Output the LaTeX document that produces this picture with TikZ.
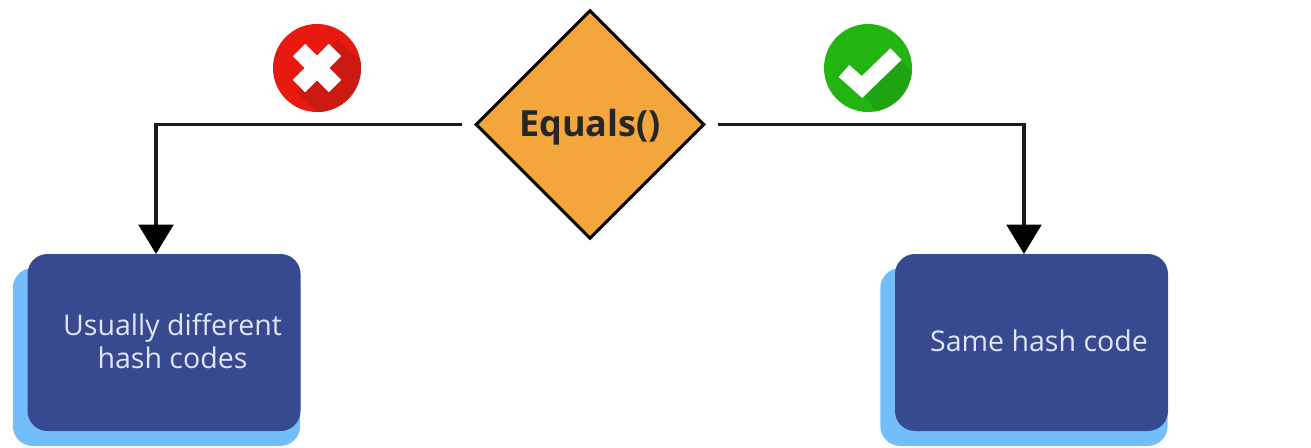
\documentclass[tikz,border=0pt]{standalone}
\usepackage{fontspec}
\setmainfont{Open Sans}
\usetikzlibrary{shapes.geometric,arrows.meta}
\definecolor{boxblue}{HTML}{37498F}
\definecolor{shadowblue}{HTML}{74BDFB}
\definecolor{boxtext}{HTML}{DDE6FA}
\definecolor{diamondfill}{HTML}{F2A63C}
\definecolor{crossred}{HTML}{E8190F}
\definecolor{crossdark}{HTML}{CC1A10}
\definecolor{checkgreen}{HTML}{22B511}
\definecolor{checkdark}{HTML}{1EA312}
\definecolor{linedark}{HTML}{1A1A1A}
\tikzset{
  x=0.75pt,y=-0.75pt,
  mainbox/.style={draw=none,fill=boxblue,rounded corners=15pt,minimum width=204.75pt,minimum height=132.75pt,inner sep=0pt},
  backbox/.style={draw=none,fill=shadowblue,rounded corners=15pt,minimum width=215.5pt,minimum height=133.5pt,inner sep=0pt},
  boxlabel/.style={text=boxtext,font=\fontsize{21.4pt}{25pt}\selectfont,align=center,inner sep=0pt},
  decision/.style={shape=diamond,aspect=1,draw=black,line width=2.2pt,fill=diamondfill,minimum width=171.5pt,minimum height=171.5pt,inner sep=0pt},
  connector/.style={draw=linedark,line width=2.3pt},
  arrowed/.style={-{Triangle[length=22pt,width=26pt,color=black]}},
  disc/.style={shape=circle,minimum size=66pt,inner sep=0pt,draw=none},
}
\begin{document}
\begin{tikzpicture}
\useasboundingbox (0,0) rectangle (1311,447);
% back plates
\node[backbox] (lb) at (156.5,357) {};
\node[backbox] (rb) at (1024,357) {};
% main boxes
\node[mainbox] (l) at (164,342.5) {};
\node[mainbox] (r) at (1031.5,342.5) {};
\node[boxlabel] (ltext) at (172.5,341) {Usually different\\hash codes};
\node[boxlabel] (rtext) at (1039,341) {Same hash code};
% decision
\node[decision] (eq) at (590,124.5) {};
\node[font=\fontsize{27pt}{32pt}\selectfont\bfseries,text=black!85,inner sep=0pt] (eqt) at (590,127) {Equals()};
% connectors
\coordinate (lend) at (156,254);
\coordinate (rend) at (1024,254);
\draw[connector,arrowed,shorten <=9pt] (eq.west) -| (lend);
\draw[connector,arrowed,shorten <=9pt] (eq.east) -| (rend);
% cross badge
\node[disc,fill=crossred] (no) at (317,68) {};
\begin{scope}
  \clip (317,68) circle (44);
  \fill[crossdark] (338,40) -- (375,75) -- (375,120) -- (325,120) -- (296,92) -- cycle;
\end{scope}
\draw[white,line width=13pt] (299,50) -- (335,86);
\draw[white,line width=13pt] (335,50) -- (299,86);
% check badge
\node[disc,fill=checkgreen] (yes) at (868,68) {};
\begin{scope}
  \clip (868,68) circle (44);
  \fill[checkdark] (895,55) -- (925,85) -- (925,125) -- (885,125) -- (862,92) -- cycle;
\end{scope}
\draw[white,line width=12pt] (844,71) -- (862,87) -- (896,54);
\end{tikzpicture}
\end{document}
